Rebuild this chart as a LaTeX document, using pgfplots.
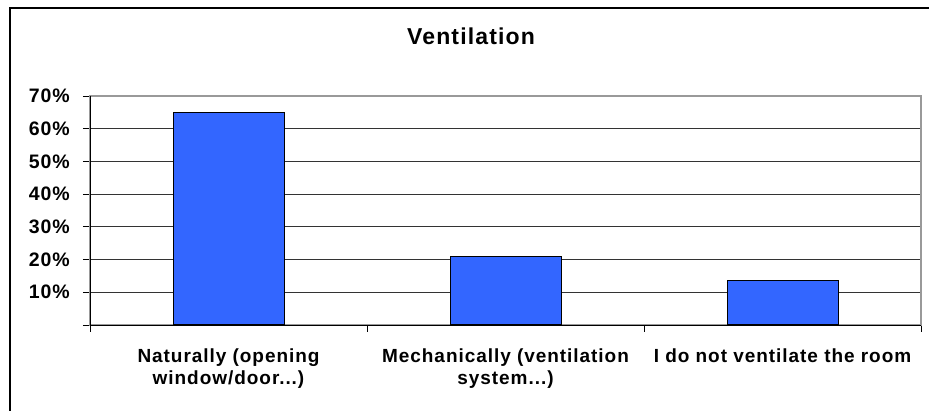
\documentclass[border=0pt]{standalone}
\usepackage{pgfplots}
\pgfplotsset{compat=1.18}
\usepackage{fontspec}
\setmainfont{Liberation Sans}[LetterSpace=5]
\definecolor{barblue}{HTML}{3366FF}
\newcommand\dotsthree{...}
\begin{document}
\begin{tikzpicture}
\useasboundingbox (0pt,0pt) rectangle (929pt,-411pt);
% outer chart frame (only left and top edges visible)
\draw[line width=1.5pt] (10pt,-411pt) -- (10pt,-8pt) -- (929pt,-8pt);
\node[font=\fontsize{23}{27}\selectfont\bfseries, anchor=base] at (471pt,-45pt) {Ventilation};
\begin{axis}[
  at={(90pt,-325pt)}, anchor=south west,
  scale only axis, width=831pt, height=229pt,
  ybar, bar width=111pt,
  xmin=-0.5, xmax=2.5, ymin=0, ymax=70,
  xtick={-0.5,0.5,1.5,2.5}, xticklabels={},
  extra x ticks={0,1,2},
  extra x tick labels={{Naturally (opening\\window/door\dotsthree)},{Mechanically (ventilation\\system\dotsthree)},{I do not ventilate the room}},
  extra x tick style={major tick length=0pt, grid=none},
  x tick label style={align=center, anchor=north, inner sep=0pt, yshift=-24pt,
    font=\fontsize{19}{22}\selectfont\bfseries},
  ytick={0,10,...,70},
  yticklabels={,10\%,20\%,30\%,40\%,50\%,60\%,70\%},
  y tick label style={anchor=east, inner sep=0pt, xshift=-13pt,
    font=\fontsize{19.5}{22}\selectfont\bfseries},
  xtick pos=bottom, ytick pos=left,
  tick align=outside, major tick length=7pt,
  tick style={black, line width=0.8pt},
  ymajorgrids, major grid style={black!80, line width=0.8pt},
  axis line style={gray!80, line width=1.4pt},
  clip=false,
]
\addplot[fill=barblue, draw=black, line width=1pt] coordinates {(0,65.1) (1,21.0) (2,13.5)};
\draw[black, line width=0.9pt] (rel axis cs:0,1) -- (rel axis cs:0,0) -- (rel axis cs:1,0);
\end{axis}
\end{tikzpicture}
\end{document}
